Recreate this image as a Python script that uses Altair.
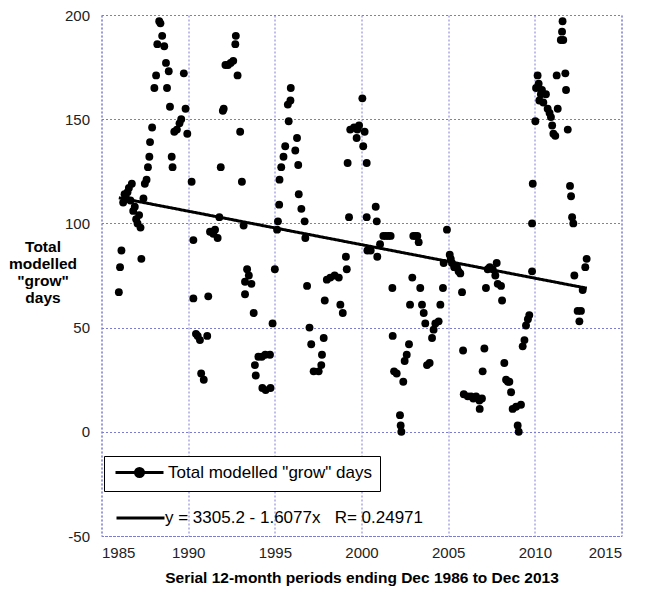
import altair as alt
import pandas as pd

# ---- data ----
years = [
    1986.00, 1986.07, 1986.15, 1986.25, 1986.33, 1986.42, 1986.50, 1986.58, 1986.67, 1986.75,
    1986.83, 1986.92, 1987.00, 1987.08, 1987.17, 1987.25, 1987.30, 1987.42, 1987.50, 1987.60,
    1987.68, 1987.76, 1987.80, 1987.92, 1988.05, 1988.15, 1988.22, 1988.33, 1988.40, 1988.50,
    1988.62, 1988.72, 1988.78, 1988.88, 1988.95, 1989.05, 1989.10, 1989.20, 1989.35, 1989.50,
    1989.60, 1989.75, 1989.85, 1989.95, 1990.20, 1990.30, 1990.30, 1990.45, 1990.55, 1990.68,
    1990.75, 1990.90, 1991.10, 1991.16, 1991.26, 1991.45, 1991.55, 1991.70, 1991.80, 1991.88,
    1992.00, 1992.05, 1992.15, 1992.30, 1992.45, 1992.60, 1992.72, 1992.75, 1992.85, 1993.00,
    1993.10, 1993.20, 1993.28, 1993.28, 1993.40, 1993.50, 1993.65, 1993.78, 1993.85, 1993.90,
    1994.05, 1994.25, 1994.28, 1994.45, 1994.47, 1994.72, 1994.75, 1994.87, 1995.00, 1995.13,
    1995.18, 1995.25, 1995.27, 1995.37, 1995.50, 1995.60, 1995.75, 1995.80, 1995.90, 1995.92,
    1996.18, 1996.28, 1996.35, 1996.38, 1996.53, 1996.72, 1996.76, 1996.86, 1997.00, 1997.10,
    1997.24, 1997.53, 1997.68, 1997.72, 1997.82, 1997.88, 1998.00, 1998.20, 1998.45, 1998.69,
    1998.78, 1998.92, 1999.10, 1999.15, 1999.20, 1999.28, 1999.35, 1999.57, 1999.72, 1999.76,
    1999.86, 2000.05, 2000.10, 2000.18, 2000.30, 2000.30, 2000.34, 2000.53, 2000.82, 2000.88,
    2000.91, 2001.07, 2001.26, 2001.40, 2001.55, 2001.68, 2001.78, 2001.80, 2001.88, 2002.03,
    2002.22, 2002.26, 2002.30, 2002.41, 2002.49, 2002.61, 2002.74, 2002.80, 2002.93, 2002.99,
    2003.10, 2003.22, 2003.30, 2003.39, 2003.49, 2003.59, 2003.68, 2003.78, 2003.93, 2004.07,
    2004.16, 2004.26, 2004.45, 2004.55, 2004.70, 2004.74, 2004.93, 2005.09, 2005.15, 2005.22,
    2005.35, 2005.51, 2005.60, 2005.70, 2005.80, 2005.86, 2005.90, 2006.13, 2006.32, 2006.45,
    2006.61, 2006.80, 2006.82, 2006.95, 2006.99, 2007.09, 2007.18, 2007.28, 2007.40, 2007.57,
    2007.72, 2007.80, 2007.86, 2008.05, 2008.11, 2008.24, 2008.34, 2008.45, 2008.53, 2008.63,
    2008.72, 2008.92, 2009.01, 2009.07, 2009.20, 2009.30, 2009.40, 2009.49, 2009.60, 2009.68,
    2009.84, 2009.84, 2009.88, 2010.03, 2010.07, 2010.16, 2010.22, 2010.26, 2010.35, 2010.41,
    2010.49, 2010.64, 2010.74, 2010.85, 2010.93, 2011.00, 2011.07, 2011.18, 2011.26, 2011.32,
    2011.50, 2011.57, 2011.60, 2011.64, 2011.76, 2011.80, 2011.90, 2012.03, 2012.09, 2012.15,
    2012.22, 2012.28, 2012.47, 2012.57, 2012.66, 2012.76, 2012.91, 2012.99,
]
grow_days = [
    67, 79, 87, 110, 114, 112, 115, 117, 111, 119,
    106, 108, 102, 100, 104, 98, 83, 112, 119, 121,
    127, 132, 139, 146, 165, 171, 186, 197, 196, 190,
    185, 177, 165, 173, 156, 132, 127, 144, 145, 148,
    150, 172, 155, 143, 120, 92, 64, 47, 46, 44,
    28, 25, 46, 65, 96, 95, 97, 93, 103, 127,
    154, 155, 176, 176, 177, 178, 186, 190, 171, 144,
    120, 99, 72, 66, 78, 75, 71, 57, 32, 27,
    36, 36, 21, 37, 20, 37, 21, 52, 78, 97,
    101, 109, 121, 127, 132, 137, 157, 149, 159, 165,
    135, 141, 128, 114, 107, 101, 93, 70, 50, 42,
    29, 29, 32, 37, 45, 63, 73, 74, 75, 74,
    61, 57, 84, 78, 129, 103, 145, 146, 141, 145,
    147, 160, 137, 144, 129, 103, 87, 87, 108, 101,
    84, 90, 94, 94, 94, 94, 69, 46, 29, 28,
    8, 3, 0, 24, 34, 37, 42, 61, 74, 94,
    94, 94, 91, 69, 61, 57, 52, 32, 33, 45,
    49, 52, 53, 61, 69, 81, 97, 85, 83, 81,
    79, 79, 77, 76, 67, 39, 18, 17, 17, 16,
    17, 15, 11, 16, 29, 40, 69, 78, 79, 78,
    75, 81, 71, 70, 63, 33, 25, 24, 24, 19,
    11, 12, 3, 0, 13, 41, 44, 51, 54, 56,
    77, 100, 119, 149, 165, 171, 167, 159, 162, 164,
    158, 162, 155, 153, 151, 147, 143, 142, 171, 155,
    188, 192, 197, 188, 172, 164, 145, 118, 113, 103,
    100, 75, 58, 53, 58, 68, 79, 83,
]
trend_years = [1986.0, 2013.0]
trend_days = [112.3, 68.9]

x_ticks = [1985, 1990, 1995, 2000, 2005, 2010, 2015]
y_ticks = [-50, 0, 50, 100, 150, 200]
series_label = 'Total modelled "grow" days'
fit_label = "y = 3305.2 - 1.6077x\u00a0\u00a0\u00a0R= 0.24971"
x_title = "Serial 12-month periods ending Dec 1986 to Dec 2013"
y_title = ["Total", "modelled", '"grow"', "days"]

pts = pd.DataFrame({"year": years, "days": grow_days, "series": series_label})
fit = pd.DataFrame({"year": trend_years, "days": trend_days, "fit": fit_label})

GRID = "#7c7cd0"
FONT = "Liberation Sans"

x_enc = alt.X(
    "year:Q",
    scale=alt.Scale(domain=[1985, 2015], nice=False, zero=False),
    axis=alt.Axis(
        values=x_ticks, labelExpr="'' + datum.value", title=x_title,
        labelPadding=9, titleY=41, titleBaseline="middle",
    ),
)
y_enc = alt.Y(
    "days:Q",
    scale=alt.Scale(domain=[-50, 200], nice=False, zero=False),
    axis=alt.Axis(
        values=y_ticks, labelExpr="'' + datum.value", title=y_title, labelPadding=12,
        titleAngle=0, titleAlign="center", titleBaseline="middle",
        titleX=-59, titleY=231.5, titleLineHeight=17,
    ),
)

pt_path = "M-1,0L8.6,0M3.0,0A0.8,0.8,0,1,1,4.6,0A0.8,0.8,0,1,1,3.0,0Z"
line_path = "M-1,0L8.6,0"

points = alt.Chart(pts).mark_point(filled=True, size=62, opacity=1).encode(
    x=x_enc,
    y=y_enc,
    color=alt.Color(
        "series:N",
        scale=alt.Scale(domain=[series_label], range=["black"]),
        legend=alt.Legend(
            title=None, orient="none", legendX=2.5, legendY=441,
            strokeColor="black", fillColor="white", padding=8,
            symbolType=pt_path, symbolSize=100, symbolStrokeWidth=3,
            symbolStrokeColor="black", symbolFillColor="black",
            labelFont=FONT, labelFontSize=17, labelColor="black",
            labelOffset=39, labelLimit=400,
        ),
    ),
)

trend = alt.Chart(fit).mark_line(color="black", strokeWidth=3).encode(
    x=x_enc,
    y=y_enc,
    strokeDash=alt.StrokeDash(
        "fit:N",
        scale=alt.Scale(domain=[fit_label], range=[[1, 0]]),
        legend=alt.Legend(
            title=None, orient="none", legendX=11.5, legendY=494.5,
            padding=0, symbolType=line_path, symbolSize=100,
            symbolStrokeWidth=3, symbolStrokeColor="black",
            labelFont=FONT, labelFontSize=17, labelColor="black",
            labelOffset=35, labelLimit=400,
        ),
    ),
)

chart = (
    alt.layer(points, trend)
    .resolve_legend(color="independent", strokeDash="independent")
    .properties(
        width=520, height=521,
        padding={"left": 101.5, "top": 15, "right": 25.5, "bottom": 53},
        autosize=alt.AutoSizeParams(type="none"),
        background="white",
    )
    .configure_view(stroke=GRID, strokeDash=[2, 2], strokeWidth=1)
    .configure_axis(
        grid=True, gridColor=GRID, gridDash=[2, 2], gridWidth=1, gridOpacity=1,
        domain=False, ticks=False,
        labelFont=FONT, labelFontSize=15, labelColor="#222222",
        titleFont=FONT, titleFontSize=15.5, titleFontWeight="bold", titleColor="black",
    )
)

chart.save("out.html", embed_options={"renderer": "svg", "actions": False})
